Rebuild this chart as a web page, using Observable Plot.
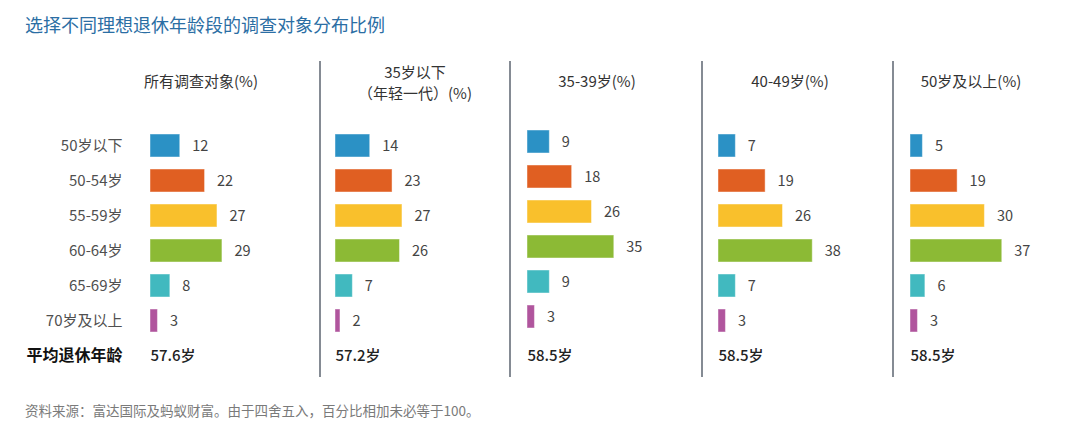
<!DOCTYPE html>
<html>
<head>
<meta charset="utf-8">
<script src="https://cdn.jsdelivr.net/npm/d3@7"></script>
<script src="https://cdn.jsdelivr.net/npm/@observablehq/plot@0.6"></script>
<style>
  html, body { margin: 0; padding: 0; background: #fff; }
  #page { position: relative; width: 1080px; height: 447px; background: #fff; font-family: "Noto Sans CJK SC", "Noto Sans", sans-serif; overflow: hidden; }
  #title { position: absolute; left: 25px; top: 11px; font-size: 18px; color: #2b6ea4; line-height: 26px; white-space: nowrap; }
  .sep { position: absolute; top: 61px; height: 316px; width: 2px; background: #858b94; }
  .head { position: absolute; width: 220px; text-align: center; font-size: 15px; color: #333; line-height: 21px; white-space: nowrap; }
  .panel { position: absolute; top: 110px; }
  .panel svg { overflow: visible; }
  #note { position: absolute; left: 25px; top: 400px; font-size: 13.5px; color: #7a7a7a; white-space: nowrap; line-height: 20px; }
</style>
</head>
<body>
<div id="page">
  <div id="title"></div>
  <div id="note"></div>
</div>
<script>
// ---------- data ----------
const titleText = "选择不同理想退休年龄段的调查对象分布比例";
const noteText = "资料来源：富达国际及蚂蚁财富。由于四舍五入，百分比相加未必等于100。";
const categories = ["50岁以下", "50-54岁", "55-59岁", "60-64岁", "65-69岁", "70岁及以上"];
const avgLabel = "平均退休年龄";
const groupHeaders = [
  ["所有调查对象(%)"],
  ["35岁以下", "（年轻一代）(%)"],
  ["35-39岁(%)"],
  ["40-49岁(%)"],
  ["50岁及以上(%)"]
];
const allRespondents = [12, 22, 27, 29, 8, 3];
const under35 = [14, 23, 27, 26, 7, 2];
const age35to39 = [9, 18, 26, 35, 9, 3];
const age40to49 = [7, 19, 26, 38, 7, 3];
const age50plus = [5, 19, 30, 37, 6, 3];
const avgAge = [57.6, 57.2, 58.5, 58.5, 58.5];
const colors = ["#2b91c5", "#e05f22", "#f9c02c", "#8cba35", "#41b9bf", "#b0559d"];

// ---------- layout ----------
const seriesList = [allRespondents, under35, age35to39, age40to49, age50plus];
const panelLeft = [0, 320, 510, 702, 893];
const panelWidth = [320, 190, 192, 191, 187];
const barStart = [150, 15, 17, 16, 17];     // within panel
const headerCenter = [201, 415, 597, 790, 971];
const barDy = [0, 0, -4, 0, 0];
const pxPerUnit = 2.48;
const xMax = 40;

const page = document.getElementById("page");
document.getElementById("title").textContent = titleText;
document.getElementById("note").textContent = noteText;

// separators
panelLeft.slice(1).forEach(x => {
  const s = document.createElement("div");
  s.className = "sep";
  s.style.left = (x - 1) + "px";
  page.appendChild(s);
});

// headers
groupHeaders.forEach((lines, i) => {
  const h = document.createElement("div");
  h.className = "head";
  h.style.left = (headerCenter[i] - 110) + "px";
  h.style.top = lines.length === 1 ? "70px" : "61px";
  h.innerHTML = lines.map(l => `<div>${l}</div>`).join("");
  page.appendChild(h);
});

const rows = [...categories, avgLabel];

seriesList.forEach((values, i) => {
  const data = categories.map((c, j) => ({category: c, value: values[j]}));
  const x0 = barStart[i];
  const marks = [
    Plot.barX(data, {
      x: "value", y: "category", fill: "category",
      stroke: "#ffffff", strokeOpacity: 0.45, strokeWidth: 1, dy: barDy[i]
    }),
    Plot.text(data, {
      x: "value", y: "category", text: d => String(d.value),
      dx: 12, dy: barDy[i], textAnchor: "start", fill: "#444", fontSize: 14.5
    }),
    Plot.text([avgAge[i]], {
      x: () => 0, y: () => avgLabel, text: d => d.toFixed(1) + "岁",
      textAnchor: "start", fill: "#222", fontSize: 15, fontWeight: 500
    })
  ];
  if (i === 0) {
    marks.push(
      Plot.axisY({ticks: categories, tickSize: 0, tickPadding: 8, fontSize: 15, fill: "#505050", label: null}),
      Plot.axisY({ticks: [avgLabel], tickSize: 0, tickPadding: 8, fontSize: 16, fontWeight: "bold", fill: "#111", label: null})
    );
  }
  const chart = Plot.plot({
    width: panelWidth[i],
    height: 280,
    marginLeft: i === 0 ? 130 : 0,
    marginRight: 0,
    marginTop: 0,
    marginBottom: 0,
    style: {fontFamily: "'Noto Sans CJK SC', 'Noto Sans', sans-serif", fontSize: "14px", background: "transparent", color: "#444"},
    x: {domain: [0, xMax], range: [x0, x0 + xMax * pxPerUnit], axis: null},
    y: {domain: rows, range: [9, 272], paddingInner: 0.33, paddingOuter: 0.33, axis: null, label: null},
    color: {domain: categories, range: colors},
    marks
  });
  const wrap = document.createElement("div");
  wrap.className = "panel";
  wrap.style.left = panelLeft[i] + "px";
  wrap.appendChild(chart);
  page.appendChild(wrap);
});
</script>
</body>
</html>
